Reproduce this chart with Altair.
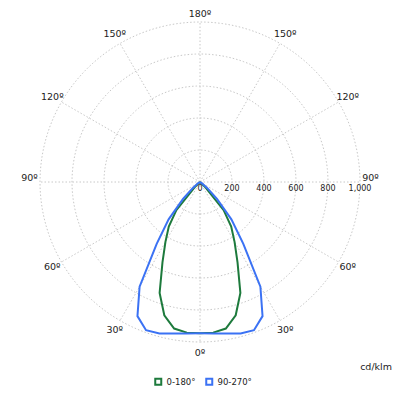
import altair as alt
import pandas as pd
import math

# ---------------- data ----------------
gamma = [0, 5, 10, 15, 20, 25, 30, 35, 40, 45, 50, 55, 60, 65, 70, 75, 80, 85, 90]
c0_180 = [946, 945, 930, 862, 738, 555, 432, 340, 230, 50, 5, 0, 0, 0, 0, 0, 0, 0, 0]
c90_270 = [946, 950, 962, 980, 986, 925, 755, 472, 305, 150, 60, 15, 0, 0, 0, 0, 0, 0, 0]
series_names = ["0-180°", "90-270°"]
series_colors = ["#1d7a3c", "#3b72f4"]

ring_values = [200, 400, 600, 800, 1000]
spoke_angles = [0, 30, 60, 90, 120, 150, 180, 210, 240, 270, 300, 330]
label_angles = [-150, -120, -90, -60, -30, 0, 30, 60, 90, 120, 150, 180]
label_texts = ["150º", "120º", "90º", "60º", "30º", "0º", "30º", "60º", "90º", "120º", "150º", "180º"]
tick_values = [0, 200, 400, 600, 800, 1000]
tick_labels = ["0", "200", "400", "600", "800", "1,000"]
unit_label = "cd/klm"

# ---------------- layout ----------------
W, H = 384, 380
K = 0.16          # pixels per cd/klm
CX, CY = 192, 174  # centre in chart pixels
RMAX = 1000
LABEL_R = 1066
GRID = "#c8c8c8"

xscale = alt.Scale(domain=[-CX / K, (W - CX) / K], nice=False, zero=False)
yscale = alt.Scale(domain=[(CY - H) / K, CY / K], nice=False, zero=False)

FONT = "DejaVu Sans"

# curves table
rows = []
for s, vals in zip(series_names, [c0_180, c90_270]):
    order = 0
    for g, v in zip(gamma[::-1], vals[::-1]):
        rows.append({"series": s, "g": -g, "r": v, "o": order})
        order += 1
    for g, v in zip(gamma[1:], vals[1:]):
        rows.append({"series": s, "g": g, "r": v, "o": order})
        order += 1
curves_df = pd.DataFrame(rows)

# grid circles: each ring value traced around the full turn
ring_rows = []
for rv in ring_values:
    for i, t in enumerate(range(0, 361, 2)):
        ring_rows.append({"ring": rv, "t": t, "o": i})
rings_df = pd.DataFrame(ring_rows)

spokes_df = pd.DataFrame({"a": spoke_angles, "R": RMAX})
labels_df = pd.DataFrame({"a": label_angles, "t": label_texts, "R": LABEL_R})
ticks_df = pd.DataFrame({"v": tick_values, "t": tick_labels, "y0": 0})

rings = alt.Chart(rings_df).transform_calculate(
    x="datum.ring * sin(datum.t * PI / 180)",
    y="-datum.ring * cos(datum.t * PI / 180)",
).mark_line(stroke=GRID, strokeDash=[1.5, 2], strokeWidth=1).encode(
    x=alt.X("x:Q", scale=xscale, axis=None),
    y=alt.Y("y:Q", scale=yscale, axis=None),
    detail="ring:N",
    order="o:Q",
)

spokes = alt.Chart(spokes_df).transform_calculate(
    x0="0", y0="0",
    x1="datum.R * sin(datum.a * PI / 180)",
    y1="-datum.R * cos(datum.a * PI / 180)",
).mark_rule(stroke=GRID, strokeDash=[1.5, 2], strokeWidth=1).encode(
    x=alt.X("x0:Q", scale=xscale, axis=None),
    y=alt.Y("y0:Q", scale=yscale, axis=None),
    x2="x1:Q",
    y2="y1:Q",
)

curves = alt.Chart(curves_df).transform_calculate(
    x="datum.r * sin(datum.g * PI / 180)",
    y="-datum.r * cos(datum.g * PI / 180)",
).mark_line(strokeWidth=2, interpolate="linear").encode(
    x=alt.X("x:Q", scale=xscale, axis=None),
    y=alt.Y("y:Q", scale=yscale, axis=None),
    order="o:Q",
    color=alt.Color(
        "series:N",
        scale=alt.Scale(domain=series_names, range=series_colors),
        legend=alt.Legend(
            title=None, orient="none", legendX=146, legendY=369, direction="horizontal",
            symbolType="square", symbolSize=36, symbolStrokeWidth=2,
            symbolFillColor="transparent", labelFontSize=8.5, labelFont=FONT,
            labelColor="#222", columnPadding=6, labelOffset=4,
        ),
    ),
)

angle_labels = alt.Chart(labels_df).transform_calculate(
    x="datum.R * sin(datum.a * PI / 180)",
    y="-datum.R * cos(datum.a * PI / 180) + (abs(datum.a) == 90 ? 25 : 0) - (abs(datum.a) == 180 ? 18 : 0)",
).mark_text(fontSize=9.5, font=FONT, color="#222", baseline="middle", align="center").encode(
    x=alt.X("x:Q", scale=xscale, axis=None),
    y=alt.Y("y:Q", scale=yscale, axis=None),
    text="t:N",
)

tick_text = alt.Chart(ticks_df).mark_text(
    fontSize=8, font=FONT, color="#222", baseline="middle", align="center", dy=7
).encode(
    x=alt.X("v:Q", scale=xscale, axis=None),
    y=alt.Y("y0:Q", scale=yscale, axis=None),
    text="t:N",
)

unit = alt.Chart(pd.DataFrame({"t": [unit_label]})).mark_text(
    fontSize=9.5, font=FONT, color="#222", align="right", baseline="middle"
).encode(x=alt.value(W), y=alt.value(359), text="t:N")

chart = alt.layer(rings, spokes, curves, angle_labels, tick_text, unit).properties(
    width=W, height=H,
    autosize=alt.AutoSizeParams(type="none"),
    padding=0,
).configure_view(strokeWidth=0)

chart.save("out.html", embed_options={"renderer": "svg", "actions": False})
